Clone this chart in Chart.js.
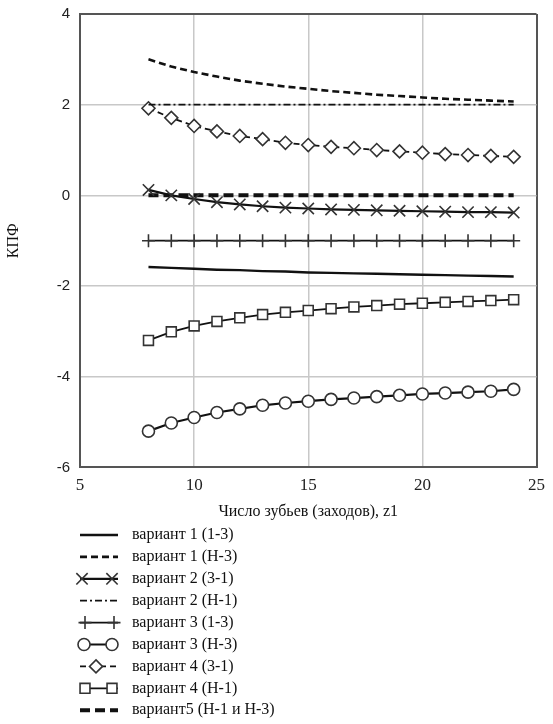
<!DOCTYPE html>
<html>
<head>
<meta charset="utf-8">
<script src="https://cdn.jsdelivr.net/npm/chart.js@4"></script>
<style>
  body { margin: 0; background: #fff; }
  canvas { display: block; }
</style>
</head>
<body>
<canvas id="kpf" width="553" height="724"></canvas>
<script>
// число зубьев z1
var z1 = [8, 9, 10, 11, 12, 13, 14, 15, 16, 17, 18, 19, 20, 21, 22, 23, 24];

var v1_13 = [-1.58, -1.60, -1.62, -1.64, -1.65, -1.67, -1.68, -1.70, -1.71, -1.72, -1.73, -1.74, -1.75, -1.76, -1.77, -1.78, -1.79];
var v1_H3 = [3.00, 2.84, 2.72, 2.62, 2.53, 2.46, 2.40, 2.35, 2.30, 2.26, 2.22, 2.19, 2.16, 2.13, 2.11, 2.09, 2.07];
var v2_31 = [0.12, 0.00, -0.08, -0.15, -0.20, -0.24, -0.27, -0.29, -0.31, -0.32, -0.33, -0.34, -0.35, -0.36, -0.37, -0.37, -0.38];
var v2_H1 = [2.0, 2.0, 2.0, 2.0, 2.0, 2.0, 2.0, 2.0, 2.0, 2.0, 2.0, 2.0, 2.0, 2.0, 2.0, 2.0, 2.0];
var v3_13 = [-1.0, -1.0, -1.0, -1.0, -1.0, -1.0, -1.0, -1.0, -1.0, -1.0, -1.0, -1.0, -1.0, -1.0, -1.0, -1.0, -1.0];
var v3_H3 = [-5.20, -5.02, -4.90, -4.79, -4.71, -4.63, -4.58, -4.54, -4.50, -4.47, -4.44, -4.41, -4.38, -4.36, -4.34, -4.32, -4.28];
var v4_31 = [1.92, 1.71, 1.53, 1.41, 1.31, 1.24, 1.16, 1.11, 1.07, 1.04, 1.00, 0.97, 0.94, 0.91, 0.89, 0.87, 0.85];
var v4_H1 = [-3.20, -3.01, -2.88, -2.78, -2.70, -2.63, -2.58, -2.54, -2.50, -2.46, -2.43, -2.40, -2.38, -2.36, -2.34, -2.32, -2.30];
var v5 = [0.0, 0.0, 0.0, 0.0, 0.0, 0.0, 0.0, 0.0, 0.0, 0.0, 0.0, 0.0, 0.0, 0.0, 0.0, 0.0, 0.0];

var seriesNames = ['вариант 1 (1-3)', 'вариант 1 (Н-3)', 'вариант 2 (3-1)', 'вариант 2 (Н-1)',
  'вариант 3 (1-3)', 'вариант 3 (Н-3)', 'вариант 4 (3-1)', 'вариант 4 (Н-1)', 'вариант5 (Н-1 и Н-3)'];

function pts(vals) {
  return vals.map(function (v, i) { return { x: z1[i], y: v }; });
}

function makeSet(i, vals, st) {
  return {
    label: seriesNames[i],
    data: pts(vals),
    borderColor: st.color || '#111',
    borderWidth: st.width,
    borderDash: st.dash || [],
    pointStyle: st.point || false,
    pointRadius: st.point ? st.radius : 0,
    pointBorderColor: '#333',
    pointBackgroundColor: st.fill ? '#fff' : 'rgba(0,0,0,0)',
    pointBorderWidth: 1.6,
    fill: false,
    tension: 0,
    legendMarks: st.marks || []
  };
}

var datasets = [
  makeSet(0, v1_13, { width: 2.4 }),
  makeSet(1, v1_H3, { width: 2.6, dash: [7, 4] }),
  makeSet(2, v2_31, { width: 2.2, point: 'crossRot', radius: 8, marks: [82, 112] }),
  makeSet(3, v2_H1, { width: 1.8, dash: [7, 3, 2, 3] }),
  makeSet(4, v3_13, { width: 1.8, point: 'cross', radius: 6.5, marks: [85, 114] }),
  makeSet(5, v3_H3, { width: 2.2, point: 'circle', radius: 6, fill: true, marks: [84, 112] }),
  makeSet(6, v4_31, { width: 1.8, dash: [6, 4], point: 'rectRot', radius: 6.5, fill: true, marks: [96] }),
  makeSet(7, v4_H1, { width: 1.8, point: 'rect', radius: 7, fill: true, marks: [85, 112] }),
  makeSet(8, v5, { width: 4, dash: [10, 5] })
];

function drawMark(ctx, style, x, y, r, fill) {
  ctx.save();
  ctx.setLineDash([]);
  ctx.strokeStyle = '#333';
  ctx.lineWidth = 1.6;
  ctx.fillStyle = fill ? '#fff' : 'rgba(0,0,0,0)';
  ctx.beginPath();
  if (style === 'circle') {
    ctx.arc(x, y, r, 0, Math.PI * 2);
    ctx.fill(); ctx.stroke();
  } else if (style === 'rect') {
    var s = r * Math.SQRT1_2;
    ctx.rect(x - s, y - s, 2 * s, 2 * s);
    ctx.fill(); ctx.stroke();
  } else if (style === 'rectRot') {
    ctx.moveTo(x, y - r); ctx.lineTo(x + r, y); ctx.lineTo(x, y + r); ctx.lineTo(x - r, y); ctx.closePath();
    ctx.fill(); ctx.stroke();
  } else if (style === 'crossRot') {
    var d = r * Math.SQRT1_2;
    ctx.moveTo(x - d, y - d); ctx.lineTo(x + d, y + d);
    ctx.moveTo(x + d, y - d); ctx.lineTo(x - d, y + d);
    ctx.stroke();
  } else if (style === 'cross') {
    ctx.moveTo(x, y - r); ctx.lineTo(x, y + r);
    ctx.moveTo(x - r, y); ctx.lineTo(x + r, y);
    ctx.stroke();
  }
  ctx.restore();
}

// вертикальная легенда под графиком
var listLegend = {
  id: 'listLegend',
  afterDraw: function (chart) {
    var ctx = chart.ctx;
    var y0 = 535, step = 21.9;
    chart.data.datasets.forEach(function (ds, i) {
      var y = y0 + i * step;
      ctx.save();
      ctx.strokeStyle = ds.borderColor;
      ctx.lineWidth = ds.borderWidth;
      ctx.setLineDash(ds.borderDash);
      ctx.beginPath();
      ctx.moveTo(80, y);
      ctx.lineTo(118, y);
      ctx.stroke();
      ctx.restore();
      ds.legendMarks.forEach(function (mx) {
        drawMark(ctx, ds.pointStyle, mx, y, ds.pointRadius, ds.pointBackgroundColor === '#fff');
      });
      ctx.save();
      ctx.fillStyle = '#111';
      ctx.font = '16px "Liberation Serif"';
      ctx.textBaseline = 'middle';
      ctx.fillText(ds.label, 132, y);
      ctx.restore();
    });
  }
};

function edgeColor(c, edges) {
  return edges.indexOf(c.tick.value) >= 0 ? '#555' : '#c8c8c8';
}
function edgeWidth(c, edges) {
  return edges.indexOf(c.tick.value) >= 0 ? 2 : 1.5;
}

new Chart(document.getElementById('kpf'), {
  type: 'line',
  data: { datasets: datasets },
  options: {
    responsive: false,
    animation: false,
    layout: { padding: { top: 14, right: 13, bottom: 199, left: 0 } },
    plugins: {
      legend: { display: false },
      tooltip: { enabled: false }
    },
    scales: {
      x: {
        type: 'linear',
        min: 5, max: 25,
        ticks: { stepSize: 5, padding: 8, color: '#222', font: { family: 'Liberation Serif', size: 17 } },
        grid: {
          drawTicks: false,
          color: function (c) { return edgeColor(c, [5, 25]); },
          lineWidth: function (c) { return edgeWidth(c, [5, 25]); }
        },
        border: { color: '#555', width: 2 },
        title: { display: true, text: 'Число зубьев (заходов), z1', color: '#111', padding: { top: -2, bottom: 4 }, font: { family: 'Liberation Serif', size: 16 } }
      },
      y: {
        type: 'linear',
        min: -6, max: 4,
        afterFit: function (s) { s.width = 80; s.paddingTop = 0; s.paddingBottom = 0; },
        ticks: { stepSize: 2, padding: 10, color: '#222', font: { family: 'Liberation Sans', size: 15 } },
        grid: {
          drawTicks: false,
          color: function (c) { return edgeColor(c, [-6, 4]); },
          lineWidth: function (c) { return edgeWidth(c, [-6, 4]); }
        },
        border: { color: '#555', width: 2 },
        title: { display: true, text: 'КПФ', color: '#111', font: { family: 'Liberation Serif', size: 16 } }
      }
    }
  },
  plugins: [listLegend]
});
</script>
</body>
</html>
